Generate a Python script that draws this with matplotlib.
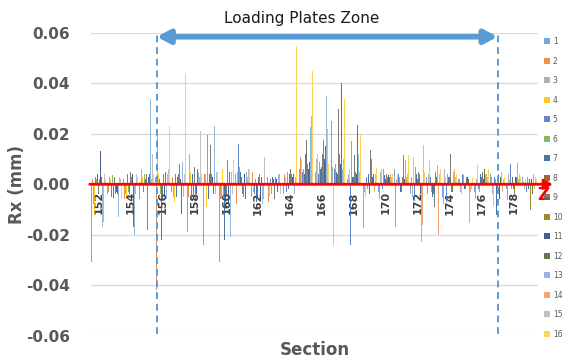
import numpy as np
import matplotlib
matplotlib.use("Agg")
import matplotlib.pyplot as plt

# Rotation Rx (mm) per section, one list per measurement series
sections = list(range(152, 180))
tick_sections = list(range(152, 180, 2))
series_names = [str(i) for i in range(1, 17)]

s1 = [-0.031, -0.004, 0.002, -0.006, 0.003, -0.003, -0.019, -0.024, -0.031, 0.004, -0.005, 0.003, -0.004, 0.006,
      0.005, 0.025, -0.011, 0.012, -0.003, 0.006, -0.004, 0.003, -0.005, 0.002, -0.003, 0.004, -0.002, 0.003]
s2 = [0.002, -0.003, -0.006, 0.001, -0.042, 0.003, -0.005, 0.004, -0.006, -0.008, 0.005, -0.007, 0.004, 0.011,
      0.006, 0.003, 0.002, -0.0175, -0.006, -0.017, 0.003, -0.004, -0.008, 0.002, -0.006, 0.003, -0.0064, 0.001]
s3 = [-0.008, 0.003, -0.004, 0.006, 0.022, -0.005, 0.012, 0.004, -0.006, 0.005, -0.003, 0.006, 0.004, 0.008,
      0.010, 0.007, 0.004, -0.003, 0.005, 0.002, -0.005, 0.004, 0.006, -0.003, 0.002, -0.004, 0.004, -0.002]
s4 = [-0.012, 0.002, -0.005, 0.003, 0.004, -0.007, 0.005, -0.009, 0.006, 0.004, 0.011, -0.005, 0.003, 0.010,
      0.012, -0.024, 0.006, -0.005, 0.006, 0.004, 0.011, 0.0095, 0.003, -0.004, 0.0075, -0.0085, 0.0016, 0.002]
s5 = [0.003, -0.005, 0.004, -0.003, 0.002, 0.004, -0.006, 0.003, 0.019, 0.016, -0.004, 0.002, -0.003, 0.005,
      0.004, 0.006, -0.024, 0.003, -0.002, 0.004, -0.006, 0.003, -0.007, 0.004, -0.002, 0.003, 0.008, -0.003]
s6 = [0.002, 0.0036, -0.003, 0.004, -0.004, 0.006, 0.003, 0.0195, -0.005, 0.007, 0.002, -0.004, 0.005, 0.006,
      0.009, 0.008, 0.017, -0.002, 0.006, 0.003, 0.007, -0.003, 0.004, 0.0038, -0.003, 0.002, -0.002, 0.003]
s7 = [0.004, -0.0056, 0.008, -0.004, 0.003, -0.005, 0.004, -0.006, -0.022, 0.005, -0.007, 0.003, -0.002, 0.004,
      0.006, 0.005, 0.003, 0.004, 0.0037, -0.003, 0.004, -0.005, 0.003, -0.002, 0.004, -0.012, 0.003, -0.002]
s8 = [0.003, -0.003, -0.004, 0.002, -0.022, 0.003, -0.005, 0.004, -0.007, 0.003, -0.006, 0.002, 0.004, 0.012,
      0.007, 0.004, 0.003, -0.004, 0.002, -0.003, 0.002, -0.004, 0.003, -0.002, 0.003, -0.003, -0.002, 0.002]
s9 = [-0.004, 0.003, 0.005, 0.004, -0.006, 0.004, 0.007, 0.0155, -0.005, -0.004, 0.003, -0.006, 0.006, 0.0175,
      0.012, 0.030, 0.0115, 0.0135, 0.004, 0.003, 0.005, -0.009, 0.012, 0.003, 0.005, 0.004, -0.003, 0.002]
s10 = [0.002, -0.004, 0.003, -0.018, 0.004, 0.008, -0.006, 0.004, 0.0095, -0.005, 0.004, 0.003, 0.004, 0.008,
       0.0175, 0.012, 0.005, 0.010, 0.003, 0.0115, 0.004, 0.005, -0.003, 0.004, -0.003, 0.002, -0.004, -0.0103]
s11 = [0.013, -0.003, 0.004, 0.003, -0.005, 0.002, -0.004, 0.003, -0.008, 0.004, -0.005, 0.002, 0.003, 0.006,
       0.010, 0.008, 0.004, 0.003, 0.0037, 0.002, -0.004, 0.003, -0.002, 0.003, 0.002, -0.006, 0.003, 0.002]
s12 = [0.003, -0.004, -0.017, 0.004, 0.005, -0.0117, 0.006, -0.004, 0.005, -0.006, 0.003, -0.003, 0.004, 0.009,
       0.015, 0.040, 0.0235, 0.004, 0.003, 0.002, 0.0069, 0.003, -0.003, 0.002, 0.0062, 0.003, 0.003, -0.004]
s13 = [-0.017, -0.013, -0.020, 0.034, -0.006, 0.009, 0.005, 0.023, -0.021, 0.005, -0.008, 0.004, -0.004, 0.0228,
       0.035, 0.006, 0.012, -0.0096, 0.0066, 0.0095, -0.023, 0.0075, 0.005, -0.0155, 0.004, 0.005, 0.0083, 0.004]
s14 = [-0.015, 0.003, -0.004, 0.002, 0.004, -0.005, 0.003, -0.004, 0.005, 0.003, -0.006, 0.004, 0.003, 0.027,
       0.008, 0.006, 0.004, -0.003, 0.004, 0.003, -0.0163, -0.020, 0.006, -0.003, 0.004, -0.003, 0.002, -0.002]
s15 = [0.004, 0.002, 0.004, 0.012, 0.006, 0.004, 0.021, 0.005, -0.004, 0.006, 0.011, -0.004, 0.003, 0.009,
       0.022, 0.010, 0.005, 0.004, 0.003, 0.004, 0.0155, 0.004, 0.003, -0.002, 0.003, 0.002, 0.004, 0.003]
s16 = [0.002, -0.006, 0.003, 0.004, 0.023, 0.044, 0.004, 0.005, 0.0095, 0.006, 0.030, 0.011, 0.055, 0.045,
       0.008, 0.034, 0.0195, 0.0063, 0.004, 0.0115, 0.005, 0.006, 0.004, 0.003, 0.006, 0.003, 0.003, 0.002]

series = [s1, s2, s3, s4, s5, s6, s7, s8, s9, s10, s11, s12, s13, s14, s15, s16]
colors = ["#5B9BD5", "#ED7D31", "#A5A5A5", "#FFC000", "#4472C4", "#70AD47",
          "#255E91", "#9E480E", "#636363", "#997300", "#264478", "#43682B",
          "#7CAFDD", "#F1975A", "#B7B7B7", "#FFCD33"]

# Zone of the loading plates (section coordinates)
zone_start, zone_end = 155.65, 177.0

W, H = 563, 363
fig = plt.figure(figsize=(W / 100, H / 100), dpi=100)
left_px, right_px, top_px, bot_px = 90.5, 537.5, 33.0, 335.5
ax = fig.add_axes([left_px / W, 1 - bot_px / H, (right_px - left_px) / W, (bot_px - top_px) / H])

x = np.array(sections, dtype=float)
n = len(series)
group_w = 0.92
bw = group_w / n
for i, (vals, col, name) in enumerate(zip(series, colors, series_names)):
    ax.bar(x - group_w / 2 + (i + 0.5) * bw, vals, width=bw, color=col, label=name,
           linewidth=0, alpha=0.85, zorder=2)

ax.set_xlim(151.5, 179.5)
ax.set_ylim(-0.06, 0.06)
for sp in ax.spines.values():
    sp.set_visible(False)

yt = np.arange(-0.06, 0.061, 0.02)
ax.set_yticks(yt)
ax.set_yticklabels([f"{v:.2f}" if abs(v) > 1e-9 else "0.00" for v in yt])
ax.yaxis.grid(True, color="#D9D9D9", linewidth=0.9, zorder=0)
ax.set_axisbelow(True)
ax.tick_params(axis="y", length=0, pad=15, labelsize=11, labelcolor="#595959")
for t in ax.get_yticklabels():
    t.set_fontweight("bold")

# Category labels sit just under the zero line
ax.spines["bottom"].set_position(("data", 0))
ax.set_xticks(tick_sections)
ax.set_xticklabels([str(s) for s in tick_sections], rotation=90, fontsize=8,
                   fontweight="bold", color="#404040")
ax.tick_params(axis="x", length=0, pad=5)

# Red Z axis arrow along zero
ax.annotate("", xy=(180.45, 0), xytext=(151.45, 0), xycoords="data",
            arrowprops=dict(arrowstyle="-|>,head_length=0.5,head_width=0.3", color="#FF0000",
                            lw=2.0, shrinkA=0, shrinkB=0), annotation_clip=False, zorder=5)
fig.text(543.5 / W, 1 - 195 / H, "Z", color="#FF0000", fontsize=12, fontweight="bold",
         ha="center", va="center")

# Loading plates zone
for xv in (zone_start, zone_end):
    ax.plot([xv, xv], [-0.0595, 0.0595], color="#5B9BD5", lw=1.4, ls=(0, (3.5, 2.5)),
            zorder=4, clip_on=False)
ax.annotate("", xy=(zone_end, 0.0585), xytext=(zone_start, 0.0585), xycoords="data",
            arrowprops=dict(arrowstyle="<|-|>,head_length=0.75,head_width=0.4",
                            mutation_scale=10, lw=4, color="#5B9BD5",
                            shrinkA=0, shrinkB=0),
            annotation_clip=False, zorder=6)
fig.text(302 / W, 1 - 18 / H, "Loading Plates Zone", fontsize=11, color="#1A1A1A",
         ha="center", va="center")

fig.text(17 / W, 1 - 184 / H, "Rx (mm)", rotation=90, fontsize=12, fontweight="bold",
         color="#595959", ha="center", va="center")
fig.text(315 / W, 1 - 350 / H, "Section", fontsize=12, fontweight="bold",
         color="#595959", ha="center", va="center")

leg = fig.legend(loc="upper left", bbox_to_anchor=(544 / W, 1 - 37 / H), frameon=False,
                 fontsize=5.5, handlelength=0.8, handleheight=0.8, handletextpad=0.35,
                 labelspacing=1.375, borderpad=0, borderaxespad=0)
for t in leg.get_texts():
    t.set_color("#595959")

fig.savefig("out.png", dpi=100)
